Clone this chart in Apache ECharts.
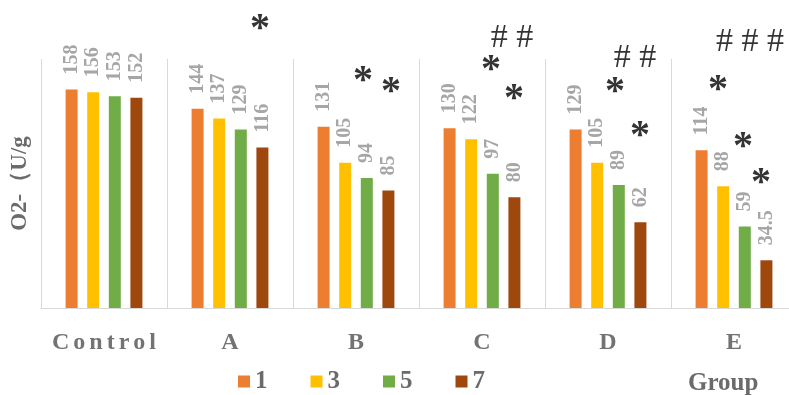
<!DOCTYPE html>
<html>
<head>
<meta charset="utf-8">
<script src="https://cdn.jsdelivr.net/npm/echarts@6/dist/echarts.min.js"></script>
<style>
  html, body { margin: 0; padding: 0; background: #ffffff; }
  #chart { width: 789px; height: 395px; }
</style>
</head>
<body>
<div id="chart"></div>
<script>
// Groups along the x axis
var categories = ['Control', 'A', 'B', 'C', 'D', 'E'];
// Legend names of the four series
var seriesNames = ['1', '3', '5', '7'];
// O2- values for each series
var values1 = [158, 144, 131, 130, 129, 114];
var values3 = [156, 137, 105, 122, 105, 88];
var values5 = [153, 129, 94, 97, 89, 59];
var values7 = [152, 116, 85, 80, 62, 34.5];
// Significance marks: [position along groups (0-6), height in O2- units, text]
var marks = [
  [1.738, 206.0, '*'],
  [2.556, 168.4, '*'],
  [2.778, 160.5, '*'],
  [3.738, 195.9, '# #'],
  [3.571, 176.4, '*'],
  [3.754, 155.4, '*'],
  [4.714, 181.4, '# #'],
  [4.556, 160.5, '*'],
  [4.754, 128.7, '*'],
  [5.627, 193.0, '# # #'],
  [5.373, 161.9, '*'],
  [5.571, 120.7, '*'],
  [5.714, 94.7, '*']
];

var SERIF = '"Liberation Serif", "Times New Roman", serif';
var colors = ['#ED7D31', '#FFC000', '#70AD47', '#9E480E'];
var allValues = [values1, values3, values5, values7];

var chart = echarts.init(document.getElementById('chart'), null, { renderer: 'canvas' });

function barSeries(i) {
  return {
    name: seriesNames[i],
    type: 'bar',
    data: allValues[i],
    barWidth: 12,
    barGap: '80%',
    itemStyle: { color: colors[i] },
    label: {
      show: true,
      position: 'top',
      rotate: 90,
      align: 'left',
      verticalAlign: 'middle',
      distance: 15,
      fontFamily: SERIF,
      fontWeight: 'bold',
      fontSize: 20,
      color: '#a6a6a6'
    }
  };
}

// Spread letters of the category names apart
function spaced(name) {
  return name.split('').map(function (ch) { return '{s|' + ch + '}'; }).join('');
}

var option = {
  backgroundColor: '#ffffff',
  animation: false,
  title: {
    text: 'Group',
    left: 688,
    top: 371,
    padding: 0,
    textStyle: { fontFamily: SERIF, fontWeight: 'bold', fontSize: 25, color: '#6b6b6b' }
  },
  legend: {
    data: seriesNames,
    left: 238,
    top: 369,
    padding: 0,
    itemWidth: 12,
    itemHeight: 12,
    itemGap: 43,
    icon: 'rect',
    textStyle: { fontFamily: SERIF, fontWeight: 'bold', fontSize: 25, color: '#6b6b6b' }
  },
  // The plot runs a little past the right edge of the canvas
  grid: {
    left: 41, width: 756, top: 59, height: 249,
    containLabel: false,
    outerBoundsMode: 'none'
  },
  xAxis: [
    {
      type: 'category',
      data: categories,
      axisLine: { lineStyle: { color: '#d9d9d9', width: 1 } },
      axisTick: { show: false },
      splitLine: { show: true, interval: 0, lineStyle: { color: '#d9d9d9', width: 1 } },
      axisLabel: {
        margin: 23,
        interval: 0,
        formatter: spaced,
        rich: {
          s: { fontFamily: SERIF, fontWeight: 'bold', fontSize: 24, color: '#737373', padding: [0, 2] }
        }
      }
    },
    { type: 'value', min: 0, max: 6, show: false }
  ],
  yAxis: {
    type: 'value',
    min: 0,
    max: 180,
    name: 'O2-（U/g',
    nameLocation: 'middle',
    nameGap: 9,
    nameTextStyle: { fontFamily: SERIF, fontWeight: 'bold', fontSize: 23, color: '#6b6b6b' },
    axisLine: { show: false },
    axisTick: { show: false },
    axisLabel: { show: false },
    splitLine: { show: false }
  },
  series: [
    barSeries(0), barSeries(1), barSeries(2), barSeries(3),
    {
      type: 'scatter',
      xAxisIndex: 1,
      yAxisIndex: 0,
      symbolSize: 0,
      clip: false,
      silent: true,
      label: {
        show: true,
        position: 'inside',
        formatter: function (p) { return p.value[2]; },
        fontFamily: SERIF,
        color: '#000000'
      },
      // Asterisks are set larger and heavier than the hash marks
      data: marks.map(function (m) {
        var star = m[2] === '*';
        return {
          value: m,
          label: star
            ? { fontSize: 40, fontWeight: 'bold', offset: [0, 7] }
            : { fontSize: 34, fontWeight: 'normal', offset: [0, 1] }
        };
      })
    }
  ]
};

chart.setOption(option);
</script>
</body>
</html>
